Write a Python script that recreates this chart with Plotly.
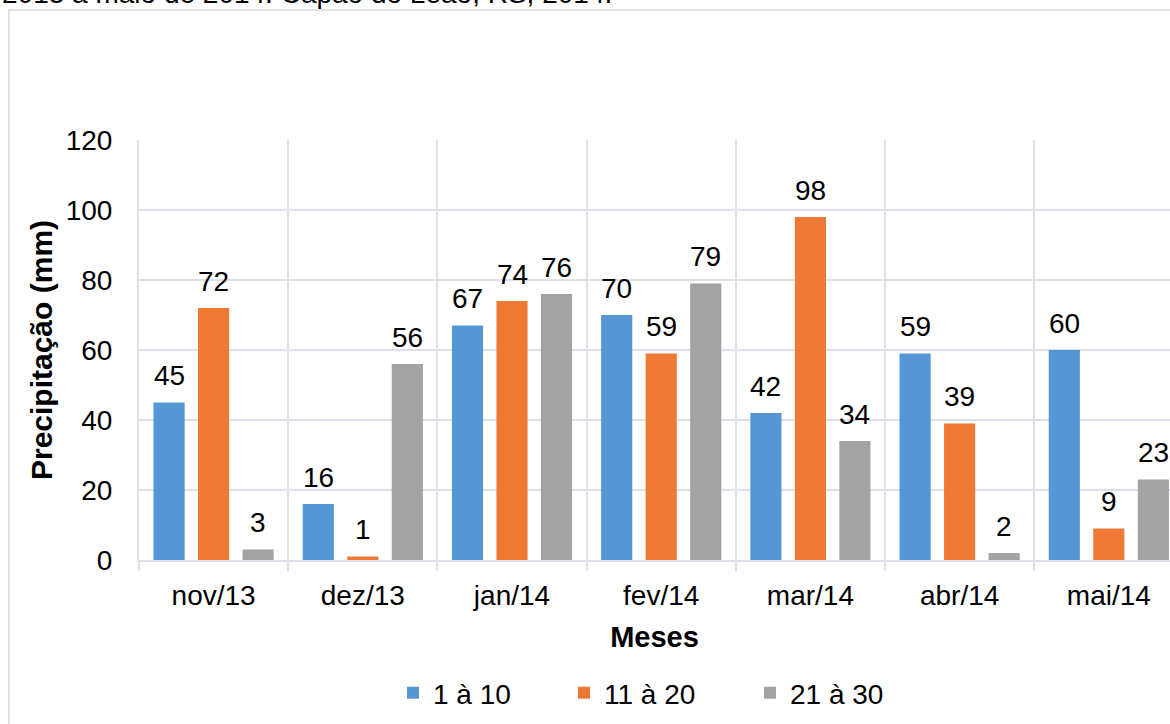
import plotly.graph_objects as go

months = ["nov/13", "dez/13", "jan/14", "fev/14", "mar/14", "abr/14", "mai/14"]
series_names = ["1 à 10", "11 à 20", "21 à 30"]
s1 = [45, 16, 67, 70, 42, 59, 60]
s2 = [72, 1, 74, 59, 98, 39, 9]
s3 = [3, 56, 76, 79, 34, 2, 23]
y_ticks = [0, 20, 40, 60, 80, 100, 120]
caption = "2013 a maio de 2014. Capão do Leão, RS, 2014."

colors = ["#5597D4", "#EE7A35", "#A3A3A3"]
FONT = "Liberation Sans, Arial, sans-serif"
FS = 28
FT = 29
GRID = "#DCE1E9"

W, H = 1170, 724
L, R, T, B = 139, 0, 140, 164
pw, ph = W - L - R, H - T - B

def px_x(p):
    return (p - L) / pw

def px_y(p):
    return (H - B - p) / ph

fig = go.Figure()
legend_x = [393, 564, 750]
slot_px = 44.5
for i, (name, vals) in enumerate(zip(series_names, [s1, s2, s3])):
    lg = "legend" if i == 0 else f"legend{i+1}"
    fig.add_trace(go.Bar(
        x=months, y=vals, name=name, marker=dict(color=colors[i], line=dict(width=0)),
        legend=lg,
    ))
    for m, v in zip(months, vals):
        fig.add_annotation(
            x=m, y=v, xref="x", yref="y", text=str(v), showarrow=False,
            xshift=(i - 1) * slot_px, yshift=27, yanchor="middle", xanchor="center",
            font=dict(family=FONT, size=FS, color="#000000"),
        )

legend_common = dict(
    orientation="h", yanchor="middle", xanchor="left",
    font=dict(family=FONT, size=FS, color="#000000"),
    bgcolor="rgba(0,0,0,0)", borderwidth=0,
)
layout_legends = {}
for i, lx in enumerate(legend_x):
    key = "legend" if i == 0 else f"legend{i+1}"
    layout_legends[key] = dict(legend_common, x=px_x(lx), y=px_y(693))

fig.update_layout(
    width=W, height=H,
    margin=dict(l=L, r=R, t=T, b=B, autoexpand=False),
    paper_bgcolor="white", plot_bgcolor="white",
    barmode="group", bargap=0.105, bargroupgap=0.30,
    font=dict(family=FONT, size=FS, color="#000000"),
    showlegend=True,
    **layout_legends,
)

fig.update_xaxes(
    range=[-0.5, 6.41], tickson="boundaries", ticks="outside", ticklen=9,
    tickwidth=2, tickcolor=GRID, showgrid=True, gridcolor=GRID, gridwidth=2,
    showline=True, linecolor=GRID, linewidth=2, zeroline=False,
    tickfont=dict(family=FONT, size=FS, color="#000000"),
    ticklabelstandoff=9, automargin=False,
    title=dict(text="<b>Meses</b>", font=dict(family=FONT, size=FT, color="#000000"), standoff=17),
)
fig.update_yaxes(
    range=[0, 120], tickvals=y_ticks, ticktext=[str(t) for t in y_ticks],
    showgrid=True, gridcolor=GRID, gridwidth=2, zeroline=False,
    showline=True, linecolor=GRID, linewidth=2, ticks="",
    tickfont=dict(family=FONT, size=FS, color="#000000"),
    ticklabelstandoff=19, automargin=False,
    title=dict(text="<b>Precipitação (mm)</b>", font=dict(family=FONT, size=30, color="#000000"), standoff=4),
)

# outer chart border (partially cropped)
fig.add_shape(
    type="rect", xref="paper", yref="paper",
    x0=px_x(9), x1=px_x(1185), y0=px_y(740), y1=px_y(10),
    line=dict(color="#D9D9D9", width=1.5), fillcolor="rgba(0,0,0,0)", layer="below",
)

# cropped caption line at the very top
fig.add_annotation(
    x=px_x(0), y=px_y(-6), xref="paper", yref="paper", text=caption,
    showarrow=False, xanchor="left", yanchor="middle",
    font=dict(family=FONT, size=FS, color="#000000"),
)

# remove the default page margin so the figure sits at the window's top-left corner
fig.write_html(
    "out.html",
    config={"displayModeBar": False},
    post_script="document.body.style.margin='0';",
)
